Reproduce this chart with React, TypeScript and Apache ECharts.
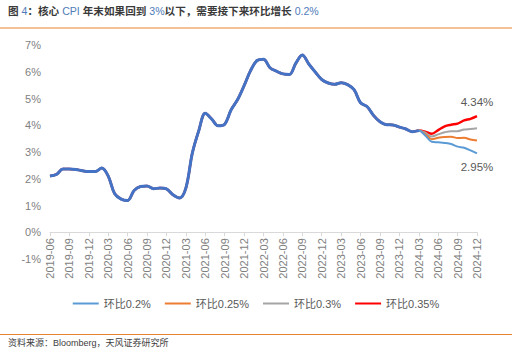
import React, { useEffect, useRef } from "react";
import * as echarts from "echarts";

const months: string[] = [];
for (let y = 2019; y <= 2024; y++) {
  for (let m = 1; m <= 12; m++) {
    if (y === 2019 && m < 6) continue;
    months.push(`${y}-${m < 10 ? "0" + m : m}`);
  }
}

// Historical core CPI YoY, 2019-06 .. 2024-03
const history = [
  2.1, 2.16, 2.36, 2.36, 2.35, 2.3, 2.27,
  2.27, 2.4, 2.1, 1.44, 1.24, 1.19, 1.56, 1.71, 1.73, 1.63, 1.65, 1.62,
  1.4, 1.28, 1.65, 2.96, 3.8, 4.45, 4.23, 3.98, 4.04, 4.58, 4.96, 5.48,
  6.04, 6.42, 6.47, 6.15, 6.02, 5.92, 5.9, 6.32, 6.63, 6.29, 5.99, 5.71,
  5.58, 5.53, 5.59, 5.52, 5.33, 4.84, 4.7, 4.37, 4.13, 4.02, 4.01, 3.93,
  3.86, 3.76, 3.8,
];

// Scenario forecasts, 2024-04 .. 2024-12
const f020 = [3.62, 3.38, 3.36, 3.34, 3.3, 3.2, 3.16, 3.06, 2.95];
const f025 = [3.67, 3.48, 3.53, 3.56, 3.57, 3.52, 3.53, 3.47, 3.43];
const f030 = [3.72, 3.58, 3.66, 3.74, 3.78, 3.78, 3.84, 3.86, 3.89];
const f035 = [3.76, 3.68, 3.82, 3.96, 4.02, 4.06, 4.18, 4.24, 4.34];

const yTicks = { min: -1, max: 7, interval: 1 };

const FONT = '"Liberation Sans", "Noto Sans CJK SC", sans-serif';

export default function App() {
  const ref = useRef<HTMLDivElement>(null);
  useEffect(() => {
    if (!ref.current) return;
    const chart = echarts.init(ref.current, undefined, { renderer: "svg" });
    const lastIdx = months.length - 1;
    const gridTop = 45;
    const gridBottom = 93;
    const unitPx = (352 - gridTop - gridBottom) / (yTicks.max - yTicks.min);
    const mk = (f: number[]) => [...history, ...f];
    const endMark = (f: number[], pos: "top" | "bottom") => ({
      symbol: "circle",
      symbolSize: 0,
      silent: true,
      data: [{ coord: [lastIdx, f[f.length - 1]], value: f[f.length - 1] }],
      label: {
        show: true,
        position: pos,
        distance: 8,
        formatter: (p: any) => Number(p.value).toFixed(2) + "%",
        color: "#595959",
        fontSize: 11.5,
        fontFamily: FONT,
      },
    });
    const base = {
      type: "line",
      smooth: 0.35,
      showSymbol: false,
      symbol: "none",
    };
    chart.setOption({
      animation: false,
      textStyle: { fontFamily: FONT },
      graphic: [
        {
          type: "text",
          left: 8,
          top: 6,
          style: {
            text: "{b|图 }{e|4}{b|：核心 }{e|CPI}{b| 年末如果回到 }{e|3%}{b|以下，需要接下来环比增长 }{e|0.2%}",
            rich: {
              b: { fontSize: 10.6, fontWeight: "bold", fill: "#3a3a3a", fontFamily: FONT },
              e: { fontSize: 10.6, fill: "#4f7cb8", fontFamily: FONT },
            },
          },
        },
        {
          type: "line",
          shape: { x1: 0, y1: 28, x2: 512, y2: 28 },
          style: { stroke: "#E8822E", lineWidth: 1 },
        },
        {
          type: "line",
          shape: { x1: 0, y1: 334.5, x2: 512, y2: 334.5 },
          style: { stroke: "#E8822E", lineWidth: 1 },
        },
        {
          type: "text",
          left: 8,
          top: 338,
          style: {
            text: "资料来源：Bloomberg，天风证券研究所",
            fontSize: 9,
            fill: "#404040",
            fontFamily: FONT,
          },
        },
      ],
      legend: {
        data: ["环比0.2%", "环比0.25%", "环比0.3%", "环比0.35%"],
        left: "center",
        top: 293,
        icon: "rect",
        itemWidth: 26,
        itemHeight: 2,
        itemGap: 14,
        textStyle: { color: "#595959", fontSize: 11, fontFamily: FONT },
      },
      grid: { left: 50, right: 35, top: gridTop, bottom: gridBottom },
      xAxis: {
        type: "category",
        data: months,
        boundaryGap: false,
        offset: -unitPx * (0 - yTicks.min),
        axisLine: { onZero: false, lineStyle: { color: "#d9d9d9", width: 1 } },
        axisTick: { show: true, interval: 2, length: 4, lineStyle: { color: "#d9d9d9" } },
        axisLabel: {
          interval: 2,
          rotate: 90,
          color: "#7f7f7f",
          fontSize: 11,
          margin: 6,
          fontFamily: FONT,
        },
        splitLine: { show: false },
      },
      yAxis: {
        type: "value",
        min: yTicks.min,
        max: yTicks.max,
        interval: yTicks.interval,
        axisLine: { show: false },
        axisTick: { show: false },
        splitLine: { show: false },
        axisLabel: {
          formatter: "{value}%",
          color: "#7f7f7f",
          fontSize: 11,
          margin: 9,
          fontFamily: FONT,
        },
      },
      series: [
        { ...base, name: "环比0.35%", data: mk(f035), lineStyle: { color: "#FF0000", width: 2.5 }, itemStyle: { color: "#FF0000" }, z: 2, markPoint: endMark(f035, "top") },
        { ...base, name: "环比0.3%", data: mk(f030), lineStyle: { color: "#A5A5A5", width: 2 }, itemStyle: { color: "#A5A5A5" }, z: 3 },
        { ...base, name: "环比0.25%", data: mk(f025), lineStyle: { color: "#ED7D31", width: 2 }, itemStyle: { color: "#ED7D31" }, z: 4 },
        { ...base, name: "环比0.2%", data: mk(f020), lineStyle: { color: "#5B9BD5", width: 2 }, itemStyle: { color: "#5B9BD5" }, z: 5, markPoint: endMark(f020, "bottom") },
        { ...base, name: "实际", data: history, lineStyle: { color: "#4472C4", width: 3 }, itemStyle: { color: "#4472C4" }, z: 6 },
      ],
    });
    return () => chart.dispose();
  }, []);
  return (
    <div
      ref={ref}
      style={{ position: "fixed", left: 0, top: 0, width: 512, height: 352, background: "#fff" }}
    />
  );
}
